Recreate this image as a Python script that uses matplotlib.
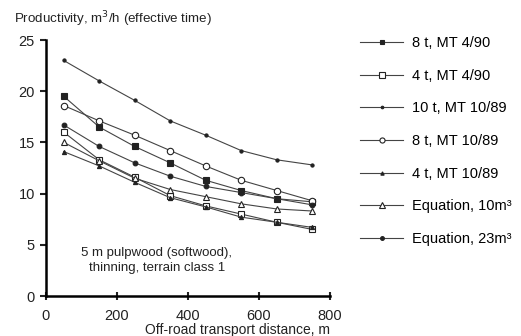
import matplotlib
matplotlib.use("Agg")
import matplotlib.pyplot as plt

plt.rcParams["font.family"] = ["Liberation Sans", "DejaVu Sans"]

# off-road transport distance, m
distance = [50, 150, 250, 350, 450, 550, 650, 750]

# productivity, m3/h (effective time)
t8_mt490 = [19.5, 16.5, 14.6, 13.0, 11.3, 10.3, 9.5, 9.2]
t4_mt490 = [16.0, 13.3, 11.6, 9.8, 8.8, 8.0, 7.2, 6.5]
t10_mt1089 = [23.0, 21.0, 19.1, 17.1, 15.7, 14.2, 13.3, 12.8]
t8_mt1089 = [18.6, 17.1, 15.7, 14.2, 12.7, 11.3, 10.3, 9.3]
t4_mt1089 = [14.1, 12.7, 11.1, 9.6, 8.7, 7.7, 7.2, 6.7]
eq_10m3 = [15.0, 13.2, 11.5, 10.4, 9.7, 9.0, 8.5, 8.3]
eq_23m3 = [16.7, 14.6, 13.0, 11.7, 10.7, 10.1, 9.5, 8.9]

series = [
    ("8 t, MT 4/90", t8_mt490, "s", 3.8, "#222222"),
    ("4 t, MT 4/90", t4_mt490, "s", 4.8, "white"),
    ("10 t, MT 10/89", t10_mt1089, "o", 2.3, "#222222"),
    ("8 t, MT 10/89", t8_mt1089, "o", 4.6, "white"),
    ("4 t, MT 10/89", t4_mt1089, "^", 3.0, "#222222"),
    ("Equation, 10m³", eq_10m3, "^", 5.0, "white"),
    ("Equation, 23m³", eq_23m3, "o", 3.4, "#222222"),
]

fig = plt.figure(figsize=(5.21, 3.36), dpi=100)
ax = fig.add_axes([46 / 521, 1 - 296 / 336, 284 / 521, 256 / 336])

for label, vals, mk, ms, face in series:
    ax.plot(distance, vals, color="#444444", linewidth=0.8, marker=mk,
            markersize=ms, markerfacecolor=face, markeredgecolor="#222222",
            markeredgewidth=0.8, label=label)

ax.set_xlim(0, 800)
ax.set_ylim(0, 25)
ax.set_xticks([0, 200, 400, 600, 800])
ax.set_yticks([0, 5, 10, 15, 20, 25])
ax.spines["top"].set_visible(False)
ax.spines["right"].set_visible(False)
ax.spines["left"].set_linewidth(1.8)
ax.spines["bottom"].set_linewidth(1.8)
ax.tick_params(axis="y", direction="out", length=4, width=1.5, pad=4,
               labelsize=10.5, colors="#222222")
ax.tick_params(axis="x", direction="inout", length=6, width=1.5, pad=6,
               labelsize=10.5, colors="#222222")
ax.set_xlabel("Off-road transport distance, m", fontsize=10, color="#222222")
ax.xaxis.set_label_coords(1.0, -0.105)
ax.xaxis.label.set_horizontalalignment("right")

ax.text(0.39, 0.14, "5 m pulpwood (softwood),\nthinning, terrain class 1",
        transform=ax.transAxes, ha="center", va="center", fontsize=9.5,
        color="#222222", linespacing=1.3)

fig.text(14 / 521, 1 - 19 / 336, "Productivity, m$^3$/h (effective time)",
         ha="left", va="center", fontsize=9.6, color="#222222")

fig.legend(loc="upper left", bbox_to_anchor=(360 / 521, 1 - 36 / 336),
           frameon=False, fontsize=10.5, handlelength=2.95, handletextpad=0.6,
           labelspacing=1.28, borderpad=0, borderaxespad=0, markerscale=0.8)

fig.savefig("out.png", dpi=100)
